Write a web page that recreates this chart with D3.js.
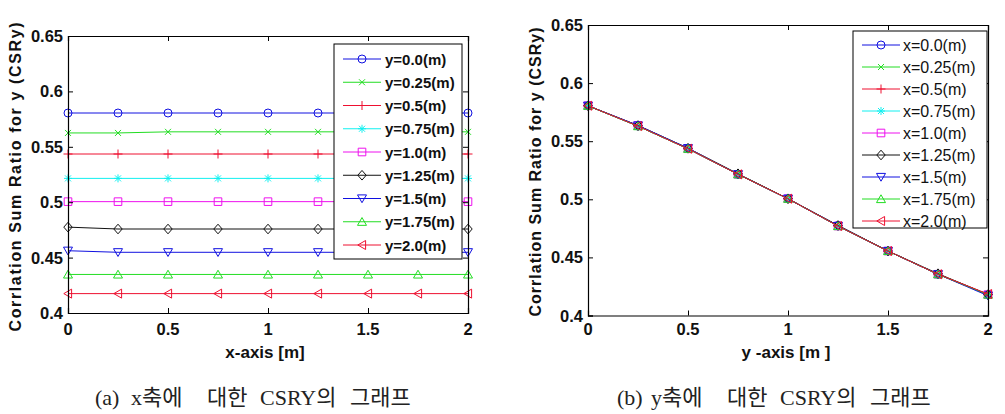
<!DOCTYPE html>
<html>
<head>
<meta charset="utf-8">
<script src="https://cdn.jsdelivr.net/npm/d3@7"></script>
<style>
  html, body { margin: 0; padding: 0; background: #fff; }
  svg { display: block; }
</style>
</head>
<body>
<div id="chart"></div>
<script>
// ---------------- data ----------------
const gridPoints = [0, 0.25, 0.5, 0.75, 1, 1.25, 1.5, 1.75, 2];
const xTickValues = [0, 0.5, 1, 1.5, 2];
const yTickValues = [0.4, 0.45, 0.5, 0.55, 0.6, 0.65];
const yTickLabels = ["0.4", "0.45", "0.5", "0.55", "0.6", "0.65"];
const xTickLabels = ["0", "0.5", "1", "1.5", "2"];

const leftLegendLabels = ["y=0.0(m)", "y=0.25(m)", "y=0.5(m)", "y=0.75(m)", "y=1.0(m)", "y=1.25(m)", "y=1.5(m)", "y=1.75(m)", "y=2.0(m)"];
const rightLegendLabels = ["x=0.0(m)", "x=0.25(m)", "x=0.5(m)", "x=0.75(m)", "x=1.0(m)", "x=1.25(m)", "x=1.5(m)", "x=1.75(m)", "x=2.0(m)"];

// (a) CSRy along x for fixed y
const csrY000 = [0.5805, 0.5805, 0.5805, 0.5805, 0.5805, 0.5805, 0.5805, 0.5805, 0.5805];
const csrY025 = [0.5625, 0.5625, 0.5635, 0.5635, 0.5635, 0.5635, 0.5635, 0.5635, 0.5635];
const csrY050 = [0.5435, 0.5435, 0.5435, 0.5435, 0.5435, 0.5435, 0.5435, 0.5435, 0.5435];
const csrY075 = [0.5215, 0.5215, 0.5215, 0.5215, 0.5215, 0.5215, 0.5215, 0.5215, 0.5215];
const csrY100 = [0.5005, 0.5005, 0.5005, 0.5005, 0.5005, 0.5005, 0.5005, 0.5005, 0.5005];
const csrY125 = [0.4775, 0.4758, 0.4758, 0.4758, 0.4758, 0.4758, 0.4758, 0.4758, 0.4758];
const csrY150 = [0.4562, 0.4548, 0.4548, 0.4548, 0.4548, 0.4548, 0.4548, 0.4548, 0.4548];
const csrY175 = [0.4348, 0.4348, 0.4348, 0.4348, 0.4348, 0.4348, 0.4348, 0.4348, 0.4348];
const csrY200 = [0.4175, 0.4175, 0.4175, 0.4175, 0.4175, 0.4175, 0.4175, 0.4175, 0.4175];

// (b) CSRy along y for fixed x
const csrX000 = [0.5805, 0.5630, 0.5435, 0.5215, 0.5005, 0.4775, 0.4555, 0.4355, 0.4180];
const csrX025 = [0.5805, 0.5630, 0.5435, 0.5215, 0.5005, 0.4770, 0.4555, 0.4355, 0.4180];
const csrX050 = [0.5805, 0.5630, 0.5435, 0.5215, 0.5005, 0.4770, 0.4555, 0.4355, 0.4180];
const csrX075 = [0.5805, 0.5630, 0.5435, 0.5215, 0.5005, 0.4770, 0.4555, 0.4355, 0.4180];
const csrX100 = [0.5805, 0.5635, 0.5435, 0.5215, 0.5005, 0.4770, 0.4555, 0.4355, 0.4180];
const csrX125 = [0.5805, 0.5635, 0.5440, 0.5220, 0.5005, 0.4775, 0.4555, 0.4360, 0.4180];
const csrX150 = [0.5805, 0.5635, 0.5440, 0.5215, 0.5005, 0.4770, 0.4555, 0.4355, 0.4170];
const csrX175 = [0.5805, 0.5630, 0.5435, 0.5215, 0.5005, 0.4770, 0.4555, 0.4355, 0.4180];
const csrX200 = [0.5805, 0.5630, 0.5435, 0.5215, 0.5005, 0.4770, 0.4555, 0.4355, 0.4185];

const leftSeries = [csrY000, csrY025, csrY050, csrY075, csrY100, csrY125, csrY150, csrY175, csrY200];
const rightSeries = [csrX000, csrX025, csrX050, csrX075, csrX100, csrX125, csrX150, csrX175, csrX200];

// ---------------- styles ----------------
const seriesColors = ["#1010e0", "#22dd22", "#ee1030", "#10f0f0", "#ee10ee", "#111111", "#1010e0", "#22dd22", "#ee1030"];
const seriesMarkers = ["o", "x", "+", "*", "s", "d", "v", "^", "<"];
const FONT = "'Liberation Sans', Arial, Helvetica, sans-serif";

function markerPath(m) {
  switch (m) {
    case "o": return "M4,0A4,4 0 1,1 -4,0A4,4 0 1,1 4,0Z";
    case "x": return "M-3,-3L3,3M-3,3L3,-3";
    case "+": return "M-4.5,0L4.5,0M0,-4.5L0,4.5";
    case "*": return "M-4,0L4,0M0,-4L0,4M-3,-3L3,3M-3,3L3,-3";
    case "s": return "M-3.8,-3.8L3.8,-3.8L3.8,3.8L-3.8,3.8Z";
    case "d": return "M0,-4.8L4.2,0L0,4.8L-4.2,0Z";
    case "v": return "M-4.5,-3.6L4.5,-3.6L0,4.2Z";
    case "^": return "M-4.5,3.6L4.5,3.6L0,-4.2Z";
    case "<": return "M-4.2,0L3.6,-4.5L3.6,4.5Z";
  }
}

const svg = d3.select("#chart").append("svg")
  .attr("width", 1005).attr("height", 414)
  .style("font-family", FONT);

function drawPanel(cfg) {
  const x = d3.scaleLinear().domain([0, 2]).range([cfg.left, cfg.right]);
  const y = d3.scaleLinear().domain([0.4, 0.65]).range([cfg.bottom, cfg.top]);
  const g = svg.append("g");

  // series lines + markers
  cfg.series.forEach((vals, i) => {
    const pts = gridPoints.map((gx, k) => [gx, vals[k]]);
    const line = d3.line().x(d => x(d[0])).y(d => y(d[1]));
    g.append("path").attr("d", line(pts))
      .attr("fill", "none").attr("stroke", seriesColors[i]).attr("stroke-width", 1);
    g.selectAll(null).data(pts).enter().append("path")
      .attr("transform", d => `translate(${x(d[0])},${y(d[1])})`)
      .attr("d", markerPath(seriesMarkers[i]))
      .attr("fill", "none").attr("stroke", seriesColors[i]).attr("stroke-width", 1);
  });

  // axes with inward ticks on all four sides
  const axB = d3.axisBottom(x).tickValues(xTickValues).tickSize(-5).tickFormat("");
  const axT = d3.axisTop(x).tickValues(xTickValues).tickSize(-5).tickFormat("");
  const axL = d3.axisLeft(y).tickValues(yTickValues).tickSize(-5).tickFormat("");
  const axR = d3.axisRight(y).tickValues(yTickValues).tickSize(-5).tickFormat("");
  [[axB, `translate(0,${cfg.bottom})`], [axT, `translate(0,${cfg.top})`],
   [axL, `translate(${cfg.left},0)`], [axR, `translate(${cfg.right},0)`]].forEach(([ax, tr]) => {
    const a = g.append("g").attr("transform", tr).call(ax);
    a.select(".domain").attr("stroke", "#000").attr("stroke-width", 1.2);
    a.selectAll(".tick line").attr("stroke", "#000");
  });

  // tick labels
  g.selectAll(null).data(yTickValues).enter().append("text")
    .attr("x", cfg.left - 5).attr("y", d => y(d) + 6)
    .attr("text-anchor", "end").attr("font-size", 16.5).attr("font-weight", "bold")
    .attr("fill", "#111")
    .text((d, i) => yTickLabels[i]);
  g.selectAll(null).data(xTickValues).enter().append("text")
    .attr("x", d => x(d)).attr("y", 335)
    .attr("text-anchor", "middle").attr("font-size", 16.5).attr("font-weight", "bold")
    .attr("fill", "#111")
    .text((d, i) => xTickLabels[i]);

  // axis titles
  g.append("text").attr("x", cfg.xlabelX).attr("y", 358)
    .attr("text-anchor", "middle").attr("font-size", 17).attr("font-weight", "bold")
    .attr("fill", "#111").attr("xml:space", "preserve").text(cfg.xlabel);
  g.append("text")
    .attr("transform", `translate(${cfg.ylabelX},${cfg.ylabelY}) rotate(-90)`)
    .attr("text-anchor", "middle").attr("font-size", 16).attr("font-weight", "bold")
    .attr("fill", "#111")
    .attr("textLength", cfg.ylabelLen).attr("lengthAdjust", "spacing")
    .text("Corrlation Sum Ratio for y (CSRy)");

  // legend
  const L = cfg.legend;
  const lg = g.append("g");
  lg.append("rect").attr("x", L.x0).attr("y", L.y0)
    .attr("width", L.x1 - L.x0).attr("height", L.y1 - L.y0)
    .attr("fill", "#fff").attr("stroke", "#000").attr("stroke-width", 1);
  cfg.labels.forEach((lab, i) => {
    const ry = L.row0 + i * L.step;
    lg.append("line").attr("x1", L.lx0).attr("x2", L.lx1).attr("y1", ry).attr("y2", ry)
      .attr("stroke", seriesColors[i]).attr("stroke-width", 1);
    lg.append("path").attr("transform", `translate(${(L.lx0 + L.lx1) / 2},${ry})`)
      .attr("d", markerPath(seriesMarkers[i]))
      .attr("fill", "none").attr("stroke", seriesColors[i]);
    lg.append("text").attr("x", L.tx).attr("y", ry + 5.5)
      .attr("font-size", L.fs).attr("font-weight", L.fw).attr("fill", "#111")
      .text(lab);
  });

  // caption (Korean)
  const cap = svg.append("text").attr("y", 405)
    .attr("font-size", 22).attr("fill", "#222")
    .style("font-family", "'Liberation Serif', 'DejaVu Serif', 'Noto Sans CJK KR', serif");
  cfg.caption.forEach(([txt, cx]) => {
    cap.append("tspan").attr("x", cx).text(txt);
  });
}

drawPanel({
  left: 68, right: 468, top: 36, bottom: 313,
  series: leftSeries, labels: leftLegendLabels,
  xlabel: "x-axis [m]", xlabelX: 265,
  ylabelX: 21, ylabelY: 177, ylabelLen: 309,
  legend: { x0: 334, y0: 44, x1: 462, y1: 259, row0: 59, step: 23.25, lx0: 343, lx1: 381, tx: 385, fs: 15, fw: "bold" },
  caption: [["(a) ", 95], ["x축에 ", 131], ["대한 ", 207], ["CSRY의 ", 260], ["그래프", 350]]
});

drawPanel({
  left: 588, right: 988, top: 25, bottom: 315.5,
  series: rightSeries, labels: rightLegendLabels,
  xlabel: "y -axis [m ]", xlabelX: 786,
  ylabelX: 541, ylabelY: 172, ylabelLen: 289,
  legend: { x0: 853, y0: 31, x1: 987, y1: 228, row0: 45, step: 22, lx0: 862, lx1: 900, tx: 903, fs: 16, fw: "normal" },
  caption: [["(b) ", 617], ["y축에 ", 651], ["대한 ", 727], ["CSRY의 ", 780], ["그래프", 870]]
});
</script>
</body>
</html>
